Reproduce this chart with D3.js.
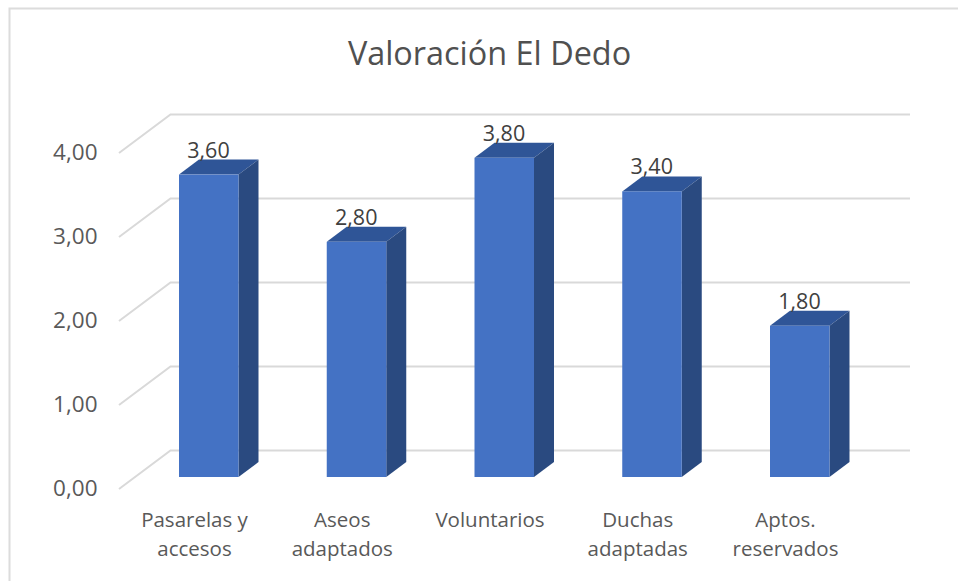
<!DOCTYPE html>
<html><head><meta charset="utf-8">
<script src="https://cdn.jsdelivr.net/npm/d3@7"></script>
<style>html,body{margin:0;background:#fff}svg{display:block}text{font-family:"Open Sans",sans-serif}</style>
</head><body><svg id="c" width="958" height="581"></svg>
<script>
const title = "Valoración El Dedo";
const categories = [["Pasarelas y","accesos"],["Aseos","adaptados"],["Voluntarios"],["Duchas","adaptadas"],["Aptos.","reservados"]];
const values = [3.6,2.8,3.8,3.4,1.8];
const ticks = [0,1,2,3,4];
const fmt = v => v.toFixed(2).replace(".",",");

const svg = d3.select("#c");
const W=958,H=581;
svg.append("path").attr("d",`M9.5,${H}V8.5H${W}`).attr("fill","none").attr("stroke","#dcdcdc").attr("stroke-width",2);
svg.append("text").attr("x",489.5).attr("y",65).attr("text-anchor","middle").attr("font-size",32.4).attr("fill","#505050").text(title);

const y = d3.scaleLinear().domain([0,4]).range([489,153]);
const x = d3.scaleBand().domain(d3.range(categories.length)).range([105,843.75]).paddingInner(0.6).paddingOuter(0.3);
const dx=51.5, dy=-38.5, bx=20, by=-15, lift=-12;
const grid = svg.append("g").attr("fill","none").attr("stroke","#d9d9d9").attr("stroke-width",2);
ticks.forEach(t=>{
  grid.append("path").attr("d",`M119,${y(t)}L${119+dx},${y(t)+dy}H910`);
});
svg.append("g").selectAll("text").data(ticks).join("text")
  .attr("x",97.5).attr("y",d=>y(d)+7).attr("text-anchor","end").attr("font-size",22.5).attr("fill","#595959").text(fmt);

const bw=59.5;
const bar = svg.append("g").selectAll("g").data(values).join("g");
const left = i => 179+ (x(i)-x(0));
const base = y(0)+lift;
bar.append("path").attr("fill","#2f5597").attr("d",(d,i)=>{const t=y(d)+lift,l=left(i);return `M${l},${t}l${bx},${by}h${bw}l${-bx},${-by}Z`;});
bar.append("path").attr("fill","#2a4a80").attr("d",(d,i)=>{const t=y(d)+lift,l=left(i)+bw;return `M${l},${t}l${bx},${by}V${base+by}L${l},${base}Z`;});
bar.append("rect").attr("x",(d,i)=>left(i)).attr("y",d=>y(d)+lift).attr("width",bw).attr("height",d=>base-y(d)-lift).attr("fill","#4472c4");
bar.append("text").attr("x",(d,i)=>left(i)+29.5).attr("y",d=>y(d)+lift-17).attr("text-anchor","middle").attr("font-size",21.5).attr("fill","#404040").text(fmt);

const cat = svg.append("g").selectAll("text").data(categories).join("text")
  .attr("text-anchor","middle").attr("font-size",20.5).attr("fill","#595959");
cat.each(function(lines,i){
  const s=d3.select(this), cx=left(i)+15.5;
  lines.forEach((l,k)=>s.append("tspan").attr("x",cx).attr("y",527+k*29).text(l));
});
</script></body></html>
